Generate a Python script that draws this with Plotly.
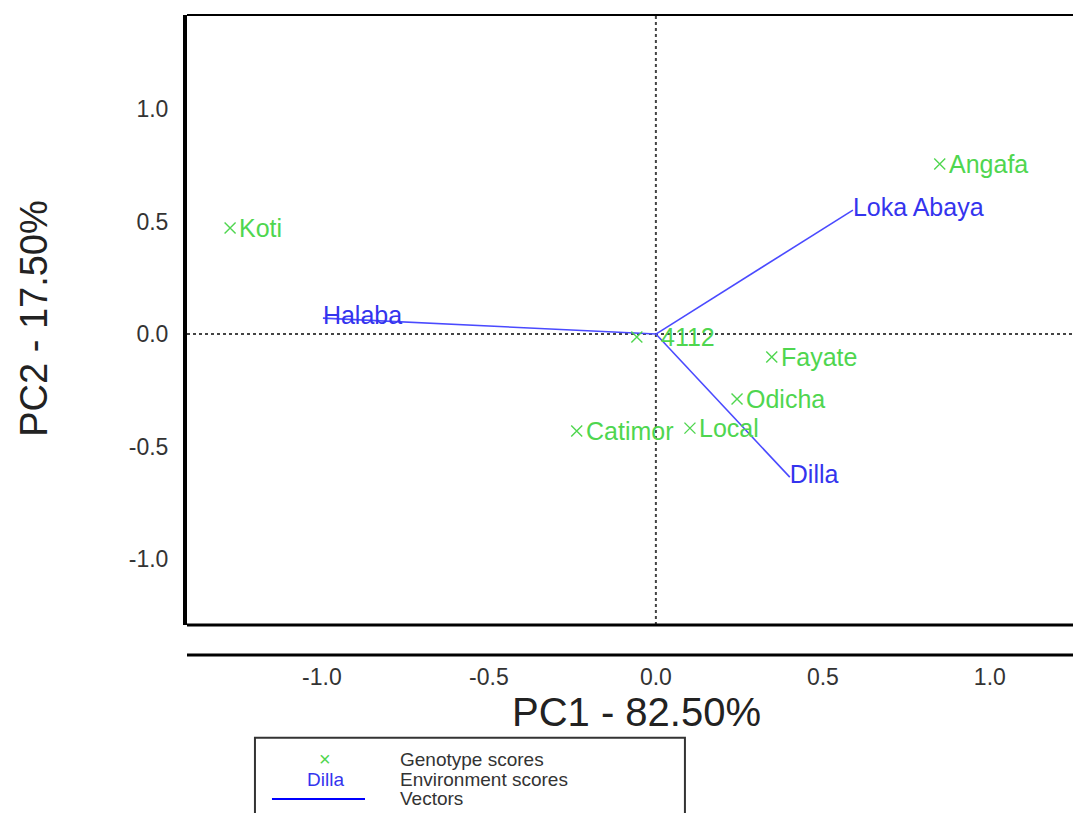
import plotly.graph_objects as go

# Genotype scores
genotypes = ["Koti", "Angafa", "4112", "Fayate", "Odicha", "Catimor", "Local"]
geno_pc1 = [-1.275, 0.850, -0.057, 0.347, 0.243, -0.237, 0.102]
geno_pc2 = [0.471, 0.756, -0.013, -0.102, -0.289, -0.431, -0.418]

# Environment scores (vectors from origin)
environments = ["Halaba", "Loka Abaya", "Dilla"]
env_pc1 = [-0.997, 0.590, 0.401]
env_pc2 = [0.071, 0.551, -0.636]

tick_vals = [-1.0, -0.5, 0.0, 0.5, 1.0]
tick_text = ["-1.0", "-0.5", "0.0", "0.5", "1.0"]

GREEN = "#4fd64f"
BLUE_TXT = "#3434ee"
BLUE_LINE = "#4a4aff"
FONT = "Liberation Sans"

fig = go.Figure()

# vectors
vx, vy = [], []
for x, y in zip(env_pc1, env_pc2):
    vx += [0, x, None]
    vy += [0, y, None]
fig.add_trace(go.Scatter(x=vx, y=vy, mode="lines",
                         line=dict(color=BLUE_LINE, width=1.6),
                         hoverinfo="skip", showlegend=False))

# environment labels
fig.add_trace(go.Scatter(x=env_pc1, y=env_pc2, mode="text", text=environments,
                         textposition="middle right",
                         textfont=dict(family=FONT, size=25, color=BLUE_TXT),
                         showlegend=False))

# genotype markers
fig.add_trace(go.Scatter(x=geno_pc1, y=geno_pc2, mode="markers",
                         marker=dict(symbol="x-thin", size=11,
                                     line=dict(width=1.4, color=GREEN)),
                         showlegend=False))

annotations = []
# genotype labels
for name, x, y in zip(genotypes, geno_pc1, geno_pc2):
    annotations.append(dict(text=name, x=x, y=y, xref="x", yref="y", showarrow=False,
                            xanchor="left", yanchor="middle",
                            xshift=22 if name == "4112" else 7,
                            font=dict(family=FONT, size=25, color=GREEN)))

shapes = []
# dotted reference lines
shapes.append(dict(type="line", xref="x", yref="paper", x0=0, x1=0, y0=0, y1=1,
                   line=dict(color="#444444", width=2, dash="dot"), layer="below"))
shapes.append(dict(type="line", xref="paper", yref="y", x0=0, x1=1, y0=0, y1=0,
                   line=dict(color="#444444", width=2, dash="dot"), layer="below"))
# plot box borders
shapes.append(dict(type="line", xref="paper", yref="paper", x0=0, x1=1, y0=1, y1=1,
                   line=dict(color="black", width=2)))
shapes.append(dict(type="line", xref="paper", yref="paper", x0=0, x1=1, y0=0, y1=0,
                   line=dict(color="black", width=3)))
# separate x-axis line
shapes.append(dict(type="line", xref="paper", yref="paper", x0=0, x1=1, y0=-0.049, y1=-0.049,
                   line=dict(color="black", width=3)))
# legend box
shapes.append(dict(type="rect", xref="paper", yref="paper", x0=0.0767, x1=0.562,
                   y0=-0.32, y1=-0.185, line=dict(color="#333333", width=2),
                   fillcolor="white"))
shapes.append(dict(type="line", xref="paper", yref="paper", x0=0.0959, x1=0.2009,
                   y0=-0.2852, y1=-0.2852, line=dict(color="blue", width=2)))

annotations += [
    dict(text="PC1 - 82.50%", xref="paper", yref="paper", x=0.507, y=-0.143,
         showarrow=False, font=dict(family=FONT, size=40, color="#222222"),
         xanchor="center", yanchor="middle"),
    dict(text="PC2 - 17.50%", xref="paper", yref="paper", x=-0.172, y=0.503,
         showarrow=False, textangle=-90, font=dict(family=FONT, size=38, color="#222222"),
         xanchor="center", yanchor="middle"),
    # legend content
    dict(text="×", xref="paper", yref="paper", x=0.1558, y=-0.2197, showarrow=False,
         font=dict(family=FONT, size=20, color=GREEN), xanchor="center", yanchor="middle"),
    dict(text="Dilla", xref="paper", yref="paper", x=0.1558, y=-0.2525, showarrow=False,
         font=dict(family=FONT, size=19, color=BLUE_TXT), xanchor="center", yanchor="middle"),
    dict(text="Genotype scores", xref="paper", yref="paper", x=0.2381, y=-0.2197,
         showarrow=False, font=dict(family=FONT, size=19, color="#333333"),
         xanchor="left", yanchor="middle"),
    dict(text="Environment scores", xref="paper", yref="paper", x=0.2381, y=-0.2525,
         showarrow=False, font=dict(family=FONT, size=19, color="#333333"),
         xanchor="left", yanchor="middle"),
    dict(text="Vectors", xref="paper", yref="paper", x=0.2381, y=-0.2852,
         showarrow=False, font=dict(family=FONT, size=19, color="#333333"),
         xanchor="left", yanchor="middle"),
]

fig.update_layout(
    width=1073, height=813,
    margin=dict(l=187, r=0, t=15, b=188),
    paper_bgcolor="white", plot_bgcolor="white",
    shapes=shapes, annotations=annotations,
    xaxis=dict(range=[-1.404, 1.249], tickvals=tick_vals, ticktext=tick_text,
               showgrid=False, zeroline=False, showline=False, ticks="",
               tickfont=dict(family=FONT, size=23, color="#333333"),
               ticklabelstandoff=36),
    yaxis=dict(range=[-1.293, 1.418], tickvals=tick_vals, ticktext=tick_text,
               showgrid=False, zeroline=False, showline=True, linecolor="black",
               linewidth=4, ticks="",
               tickfont=dict(family=FONT, size=23, color="#333333"),
               ticklabelstandoff=10),
)

fig.write_html("out.html")
